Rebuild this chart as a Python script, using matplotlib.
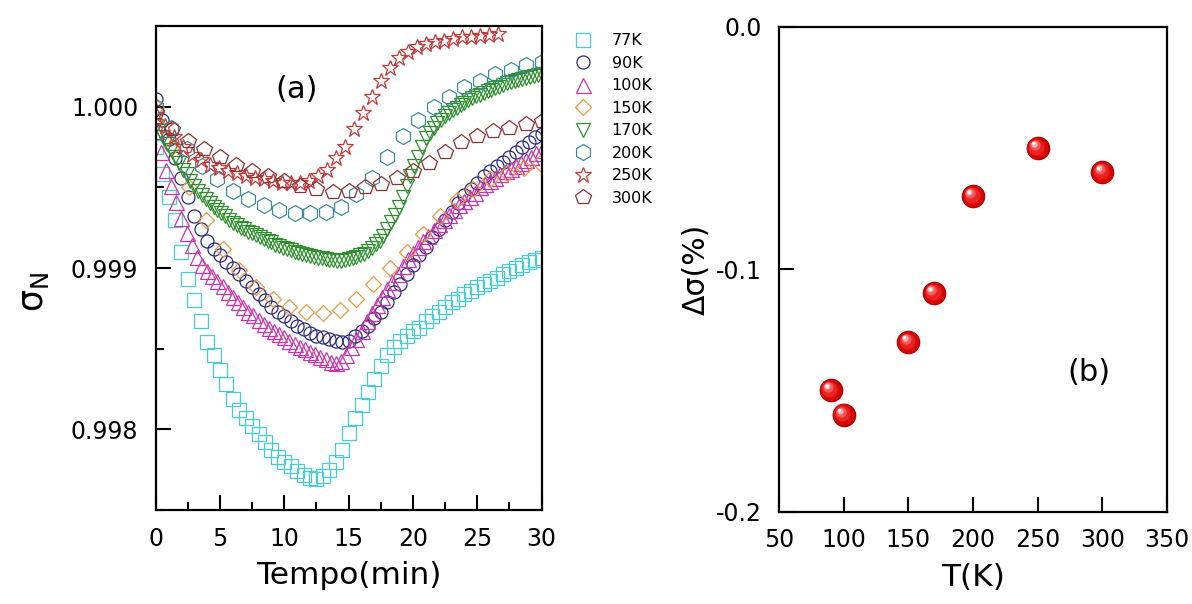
import numpy as np
import matplotlib
matplotlib.use("Agg")
import matplotlib.pyplot as plt
from matplotlib.transforms import ScaledTranslation
from matplotlib.ticker import MultipleLocator, FormatStrFormatter

plt.rcParams['font.family'] = ['DejaVu Sans']
plt.rcParams['mathtext.fontset'] = 'custom'
plt.rcParams['mathtext.rm'] = 'DejaVu Sans'
plt.rcParams['mathtext.it'] = 'DejaVu Sans:italic'
plt.rcParams['axes.unicode_minus'] = False

# ---------------- panel (a): normalized conductivity vs time ----------------
labels = ['77K', '90K', '100K', '150K', '170K', '200K', '250K', '300K']

# last sample time (min) of each run; samples are evenly spaced from t = 0
t_end = [30.0, 30.0, 30.0, 29.9, 30.0, 30.0, 26.6, 30.0]

sigma_77K = [
    0.99975, 0.99958, 0.99944, 0.99930, 0.99910, 0.99893, 0.99880, 0.99867, 0.99854, 0.99846,
    0.99837, 0.99828, 0.99819, 0.99812, 0.99807, 0.99802, 0.99797, 0.99792, 0.99787, 0.99783,
    0.99780, 0.99777, 0.99774, 0.99772, 0.99770, 0.99769, 0.99771, 0.99775, 0.99780, 0.99787,
    0.99798, 0.99807, 0.99815, 0.99823, 0.99831, 0.99839, 0.99846, 0.99851, 0.99855, 0.99858,
    0.99861, 0.99863, 0.99867, 0.99870, 0.99873, 0.99876, 0.99879, 0.99881, 0.99884, 0.99886,
    0.99888, 0.99890, 0.99892, 0.99894, 0.99896, 0.99898, 0.99900, 0.99902, 0.999035, 0.99905,
    0.999065]

sigma_90K = [
    1.00005, 0.99992, 0.99980, 0.99968, 0.99956, 0.99944, 0.99932, 0.99924, 0.99917, 0.99912,
    0.99908, 0.99904, 0.99900, 0.99896, 0.99892, 0.99888, 0.99884, 0.99880, 0.99876, 0.99873,
    0.99870, 0.99867, 0.99864, 0.99862, 0.99860, 0.99858, 0.99857, 0.99856, 0.99855, 0.99854,
    0.99855, 0.99858, 0.99861, 0.99864, 0.99869, 0.99873, 0.99879, 0.99885, 0.99890, 0.99896,
    0.99902, 0.99908, 0.99913, 0.99919, 0.99924, 0.99930, 0.99935, 0.99940, 0.99945, 0.99949,
    0.99953, 0.99957, 0.99960, 0.99963, 0.99966, 0.99969, 0.99972, 0.99975, 0.99978, 0.99981,
    0.99983]

sigma_100K = [
    0.99985, 0.99972, 0.99961, 0.99951, 0.99941, 0.99931, 0.99922, 0.99914, 0.99907, 0.99902,
    0.99898, 0.99895, 0.99892, 0.99889, 0.99885, 0.99882, 0.99879, 0.99876, 0.99873, 0.99871,
    0.99868, 0.99865, 0.99863, 0.99861, 0.99859, 0.99857, 0.99855, 0.99853, 0.99851, 0.998495,
    0.99848, 0.998465, 0.99845, 0.998435, 0.99842, 0.99841, 0.998425, 0.99846, 0.99851, 0.99856,
    0.99861, 0.99867, 0.99872, 0.99877, 0.99882, 0.99887, 0.998915, 0.99896, 0.99901, 0.999055,
    0.999095, 0.99913, 0.999165, 0.99920, 0.999235, 0.99927, 0.99930, 0.99933, 0.99936, 0.99939,
    0.999415, 0.99944, 0.999465, 0.99950, 0.99952, 0.99954, 0.99956, 0.99958, 0.99960, 0.999615,
    0.99963, 0.99965, 0.99967, 0.99969, 0.99971, 0.99973]

sigma_150K = [
    1.00000, 0.99975, 0.99950, 0.99930, 0.99912, 0.99899, 0.99888, 0.99881, 0.99876, 0.99873,
    0.99872, 0.99874, 0.99881, 0.99890, 0.99900, 0.99910, 0.99921, 0.99932, 0.99942, 0.99949,
    0.99955, 0.99959, 0.99962, 0.99965]

sigma_170K = [
    0.99988, 0.99985, 0.99981, 0.99977, 0.99973, 0.99969, 0.99965, 0.99961, 0.99958, 0.99954,
    0.99951, 0.99948, 0.999455, 0.99943, 0.999405, 0.99938, 0.99936, 0.99934, 0.99932, 0.99930,
    0.99928, 0.999265, 0.99925, 0.99924, 0.999225, 0.999215, 0.999205, 0.99919, 0.99918, 0.99917,
    0.99916, 0.999145, 0.999135, 0.999125, 0.999115, 0.99911, 0.99910, 0.999095, 0.999085, 0.99908,
    0.999075, 0.99907, 0.999065, 0.99906, 0.999055, 0.99905, 0.99905, 0.999045, 0.999045, 0.99905,
    0.999055, 0.99906, 0.99907, 0.99908, 0.99909, 0.999105, 0.999125, 0.99915, 0.99917, 0.99920,
    0.99924, 0.999285, 0.99933, 0.99938, 0.99944, 0.99951, 0.99957, 0.99963, 0.99969, 0.99975,
    0.999805, 0.99984, 0.99987, 0.99990, 0.99992, 0.99994, 0.99996, 0.99998, 0.999995, 1.00001,
    1.000025, 1.00004, 1.000055, 1.000065, 1.000075, 1.000085, 1.000095, 1.000105, 1.000115, 1.000125,
    1.000135, 1.000145, 1.00015, 1.00016, 1.000165, 1.00017, 1.00018, 1.000185, 1.00019, 1.000195,
    1.00020]

sigma_200K = [
    1.00000, 0.99987, 0.99974, 0.99963, 0.99955, 0.99948, 0.99943, 0.99939, 0.99936, 0.99934,
    0.99934, 0.99935, 0.99938, 0.99946, 0.99956, 0.99969, 0.99982, 0.99992, 1.00000, 1.00006,
    1.00012, 1.00016, 1.00020, 1.00023, 1.00026, 1.00028]

sigma_250K = [
    0.99995, 0.99988, 0.99981, 0.99975, 0.99970, 0.99967, 0.99964, 0.99962, 0.99960, 0.99959,
    0.99957, 0.99956, 0.99955, 0.99954, 0.99953, 0.99953, 0.99953, 0.99954, 0.99957, 0.99961,
    0.99968, 0.99975, 0.99986, 0.99996, 1.00006, 1.00016, 1.00024, 1.00030, 1.00034, 1.00037,
    1.00039, 1.00040, 1.00041, 1.00042, 1.00043, 1.000435, 1.00044, 1.000445, 1.00045]

sigma_300K = [
    0.99997, 0.99986, 0.99979, 0.99974, 0.99969, 0.99964, 0.99960, 0.99957, 0.99954, 0.99951,
    0.99949, 0.99947, 0.99948, 0.99950, 0.99952, 0.99956, 0.99960, 0.99965, 0.99972, 0.99978,
    0.99982, 0.99985, 0.99987, 0.99989, 0.99991]

# ---------------- panel (b): conductivity change vs temperature ----------------
temperature_K = [90, 100, 150, 170, 200, 250, 300]
delta_sigma_pct = [-0.15, -0.16, -0.13, -0.11, -0.07, -0.05, -0.06]

# ---------------- styles ----------------
series = [sigma_77K, sigma_90K, sigma_100K, sigma_150K,
          sigma_170K, sigma_200K, sigma_250K, sigma_300K]
markers = ['s', 'o', '^', 'D', 'v', 'h', '*', 'p']
colors = ['#45cdd5', '#2b2b80', '#cc33aa', '#e39c45',
          '#2f8f2f', '#3f8c9c', '#c43a3a', '#8a3434']
msizes = [9.4, 9.4, 10.8, 8.2, 10.6, 11.5, 12.0, 11.5]

fig = plt.figure(figsize=(11.92, 6.04), dpi=100)
ax_a = fig.add_axes([0.1306, 0.1556, 0.3238, 0.8013])
ax_b = fig.add_axes([0.6535, 0.1528, 0.3255, 0.8030])

handles = []
for vals, end, mk, col, ms, lab in zip(series, t_end, markers, colors, msizes, labels):
    t = np.linspace(0.0, end, len(vals))
    h, = ax_a.plot(t, vals, linestyle='none', marker=mk, markersize=ms,
                   markerfacecolor='none', markeredgecolor=col,
                   markeredgewidth=0.9, label=lab)
    handles.append(h)

ax_a.set_xlim(0, 30)
ax_a.set_ylim(0.9975, 1.0005)
ax_a.xaxis.set_major_locator(MultipleLocator(5))
ax_a.xaxis.set_minor_locator(MultipleLocator(2.5))
ax_a.yaxis.set_major_locator(MultipleLocator(0.001))
ax_a.yaxis.set_minor_locator(MultipleLocator(0.0005))
ax_a.yaxis.set_major_formatter(FormatStrFormatter('%.3f'))
ax_a.xaxis.set_major_formatter(FormatStrFormatter('%d'))
ax_a.set_xlabel('Tempo(min)', fontsize=22.5)
ax_a.set_ylabel('σ$_\\mathregular{N}$', fontsize=25)
ax_a.xaxis.set_label_coords(0.5, -0.105)
ax_a.yaxis.set_label_coords(-0.27, 0.45)
ax_a.text(0.365, 0.868, '(a)', transform=ax_a.transAxes, fontsize=22,
          ha='center', va='center')

fig.legend(handles=handles, loc='upper left', bbox_to_anchor=(0.481, 0.945),
           bbox_transform=fig.transFigure, frameon=False, fontsize=11.5,
           numpoints=1, handlelength=1.2, handletextpad=1.2,
           labelspacing=0.47, borderpad=0, borderaxespad=0)

# red spheres drawn as stacked discs with a highlight toward the upper left
sphere_layers = [
    (17.0, '#b00000', 0.0, 0.0),
    (15.5, '#d50606', -0.3, 0.3),
    (11.5, '#ea2222', -1.0, 1.0),
    (7.4, '#f45a5a', -2.0, 2.2),
    (4.4, '#fbb0b0', -2.7, 3.0),
    (2.3, '#ffffff', -3.0, 3.3),
]
for ms, col, dx, dy in sphere_layers:
    off = ScaledTranslation(dx / 72.0, dy / 72.0, fig.dpi_scale_trans)
    ax_b.plot(temperature_K, delta_sigma_pct, linestyle='none', marker='o',
              markersize=ms, markerfacecolor=col, markeredgecolor='none',
              transform=ax_b.transData + off, clip_on=False)

ax_b.set_xlim(50, 350)
ax_b.set_ylim(-0.2, 0.0)
ax_b.xaxis.set_major_locator(MultipleLocator(50))
ax_b.yaxis.set_major_locator(MultipleLocator(0.1))
ax_b.yaxis.set_major_formatter(FormatStrFormatter('%.1f'))
ax_b.set_xlabel('T(K)', fontsize=22.5)
ax_b.set_ylabel('Δσ(%)', fontsize=21.5)
ax_b.xaxis.set_label_coords(0.5, -0.105)
ax_b.yaxis.set_label_coords(-0.175, 0.5)
ax_b.text(0.799, 0.288, '(b)', transform=ax_b.transAxes, fontsize=22,
          ha='center', va='center')

for ax in (ax_a, ax_b):
    for sp in ax.spines.values():
        sp.set_linewidth(1.6)
    ax.tick_params(which='major', direction='in', length=10.5, width=1.5,
                   labelsize=17, top=False, right=False)
    ax.tick_params(which='minor', direction='in', length=5.5, width=1.5,
                   top=False, right=False)
    ax.tick_params(axis='x', which='major', pad=12)
    ax.tick_params(axis='y', which='major', pad=12.5)

fig.savefig('out.png', dpi=100)
